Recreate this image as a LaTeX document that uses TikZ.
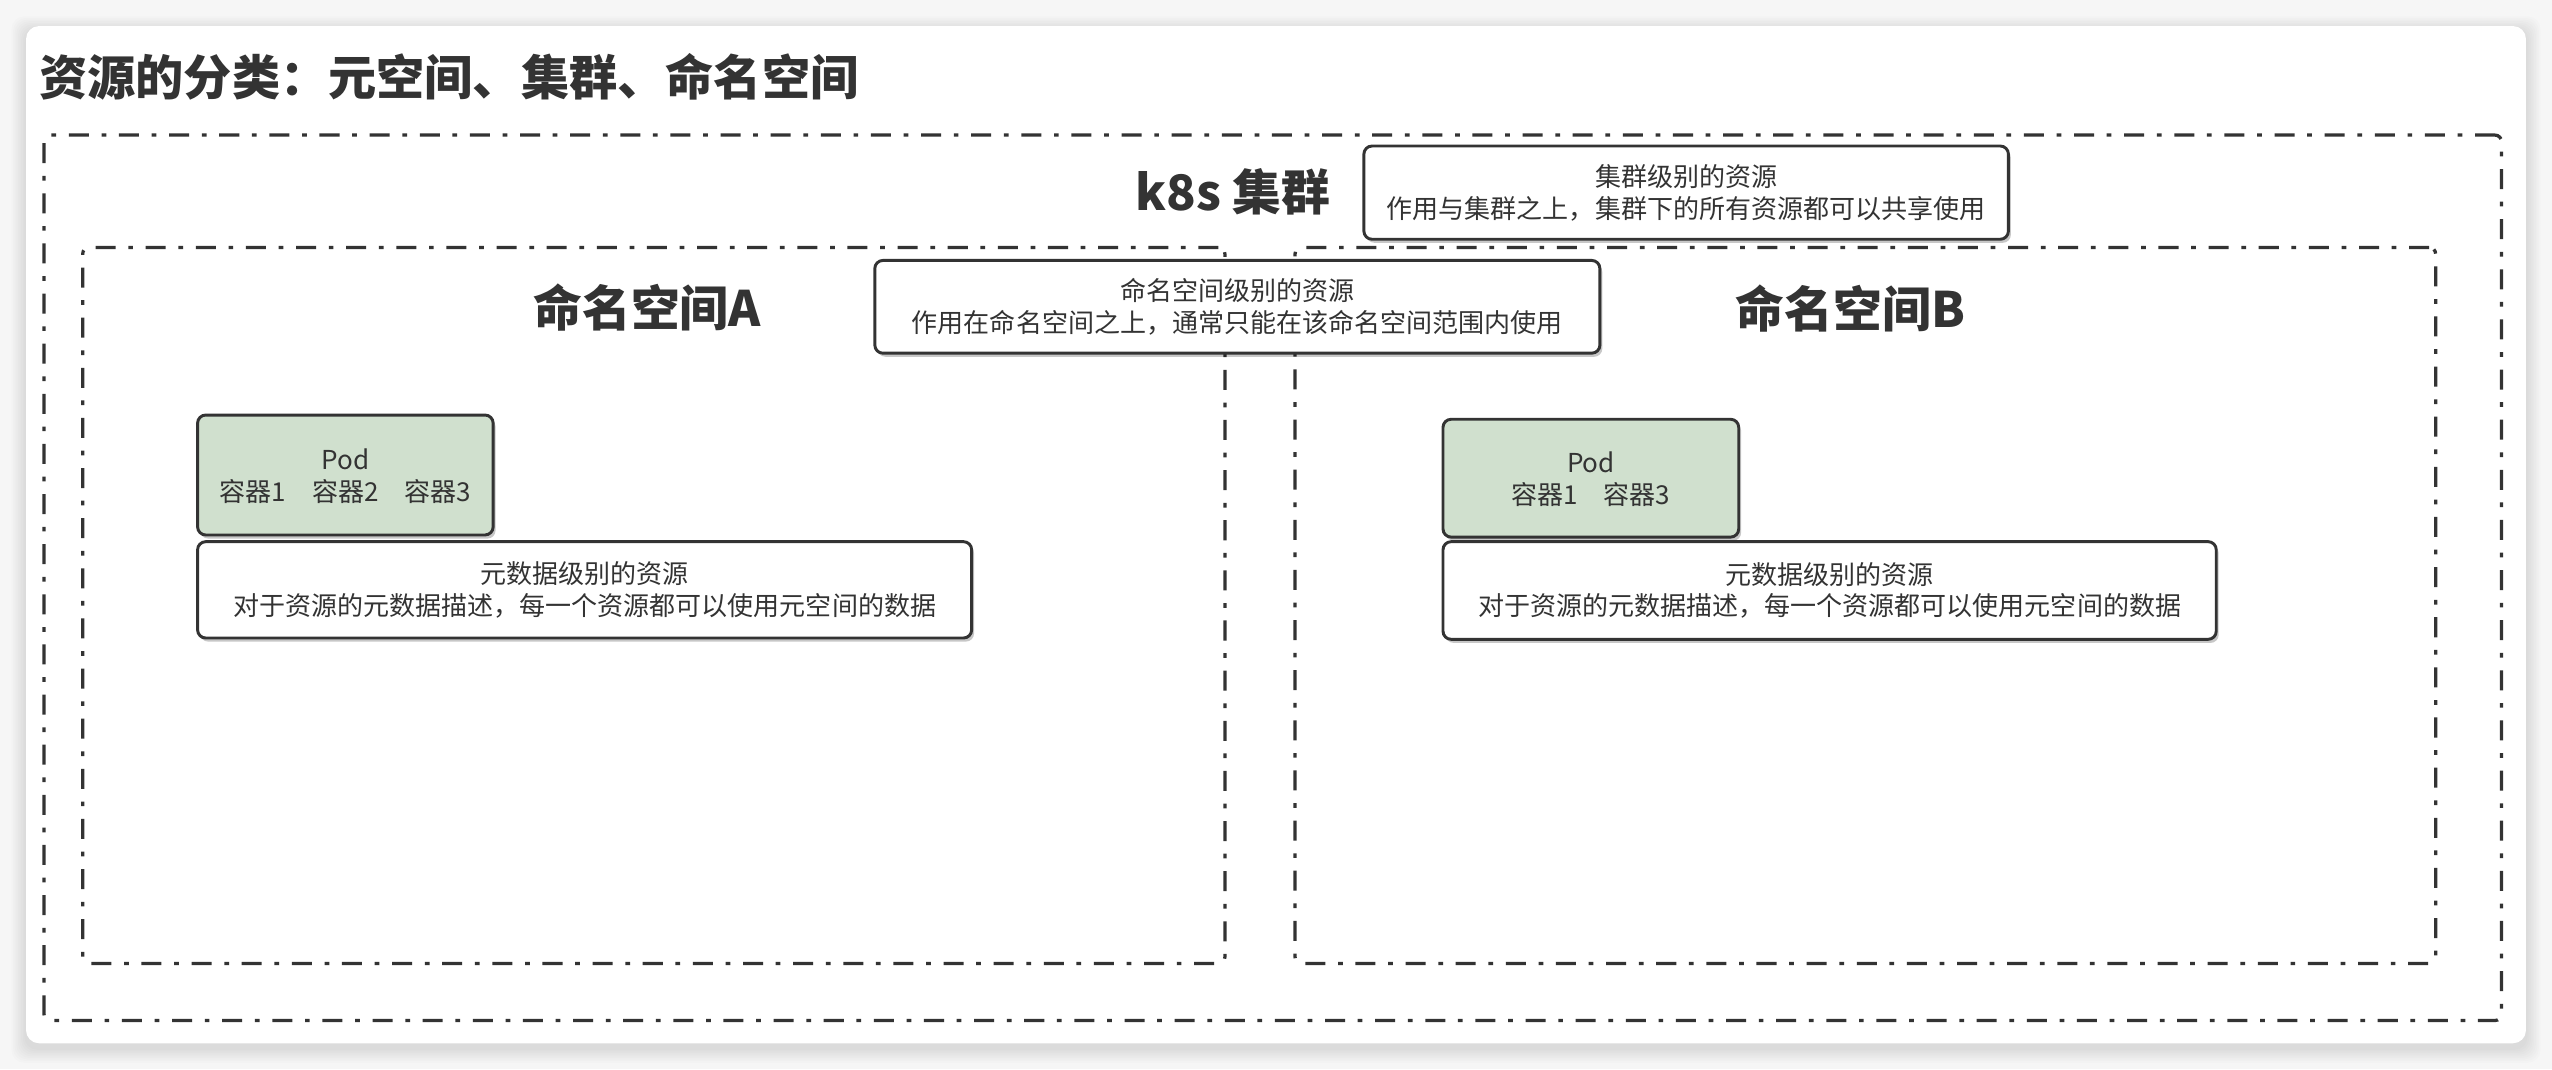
\documentclass[tikz,border=0pt]{standalone}
\usepackage{fontspec}
\setmainfont{Noto Sans CJK SC}
\definecolor{ink}{RGB}{51,51,51}
\definecolor{podgreen}{RGB}{208,224,206}
\definecolor{pagebg}{RGB}{246,246,246}
\tikzset{
  contbox/.style={draw=ink, line width=2pt, rounded corners=4pt,
    dash pattern=on 12.3pt off 7.8pt on 2.9pt off 7.8pt, inner sep=0pt},
  notebox/.style={draw=ink, line width=1.8pt, rounded corners=5pt, fill=white,
    inner sep=0pt, align=center, text=ink, font=\fontsize{16}{19.5}\selectfont,
    preaction={fill=black, opacity=0.22, transform canvas={shift={(1.5pt,-2.2pt)}}}},
  podbox/.style={notebox, fill=podgreen},
  heading/.style={text=ink, font=\bfseries\fontsize{30}{34}\selectfont, inner sep=0pt},
}
\begin{document}
\begin{tikzpicture}[x=1pt, y=-1pt]
\useasboundingbox (0,0) rectangle (1568,657);
\fill[pagebg] (0,0) rectangle (1568,657);
% card shadow
\foreach \s in {1,...,9}{
  \fill[black, opacity=0.012, rounded corners=8pt] (16-\s,16-\s+3) rectangle (1552+\s,641+\s+3);
}
\fill[white, rounded corners=8pt] (16,16) rectangle (1552,641);

% title
\node[heading, anchor=west, font=\bfseries\fontsize{29.6}{34}\selectfont] (title) at (24,47) {资源的分类：元空间、集群、命名空间};

% containers
\node[contbox, minimum width=1510pt, minimum height=544pt] (cluster) at (782,355) {};
\node[contbox, minimum width=701.8pt, minimum height=440pt] (nsA) at (401.7,372) {};
\node[contbox, minimum width=700.8pt, minimum height=440pt] (nsB) at (1146.1,372) {};

% headings
\node[heading] (k8s) at (757.5,118) {k8s 集群};
\node[heading] (nsAlabel) at (397.6,189) {命名空间A};
\node[heading] (nsBlabel) at (1137,189.5) {命名空间B};

% notes
\node[notebox, minimum width=396pt, minimum height=57.3pt] (clusterNote) at (1036,118.35)
  {集群级别的资源\\作用与集群之上，集群下的所有资源都可以共享使用};
\node[notebox, minimum width=445.5pt, minimum height=57pt] (nsNote) at (760.25,188.5)
  {命名空间级别的资源\\作用在命名空间之上，通常只能在该命名空间范围内使用};

% namespace A
\node[podbox, minimum width=181.6pt, minimum height=73.7pt, text depth=-2pt] (podA) at (212.2,291.85)
  {Pod\\容器1\hspace{1em}容器2\hspace{1em}容器3};
\node[notebox, minimum width=475.6pt, minimum height=59.2pt] (metaA) at (359.2,362.4)
  {元数据级别的资源\\对于资源的元数据描述，每一个资源都可以使用元空间的数据};

% namespace B
\node[podbox, minimum width=181.7pt, minimum height=72.4pt, text depth=-2pt] (podB) at (977.45,293.8)
  {Pod\\容器1\hspace{1em}容器3};
\node[notebox, minimum width=475.1pt, minimum height=60pt] (metaB) at (1124.15,362.8)
  {元数据级别的资源\\对于资源的元数据描述，每一个资源都可以使用元空间的数据};
\end{tikzpicture}
\end{document}
